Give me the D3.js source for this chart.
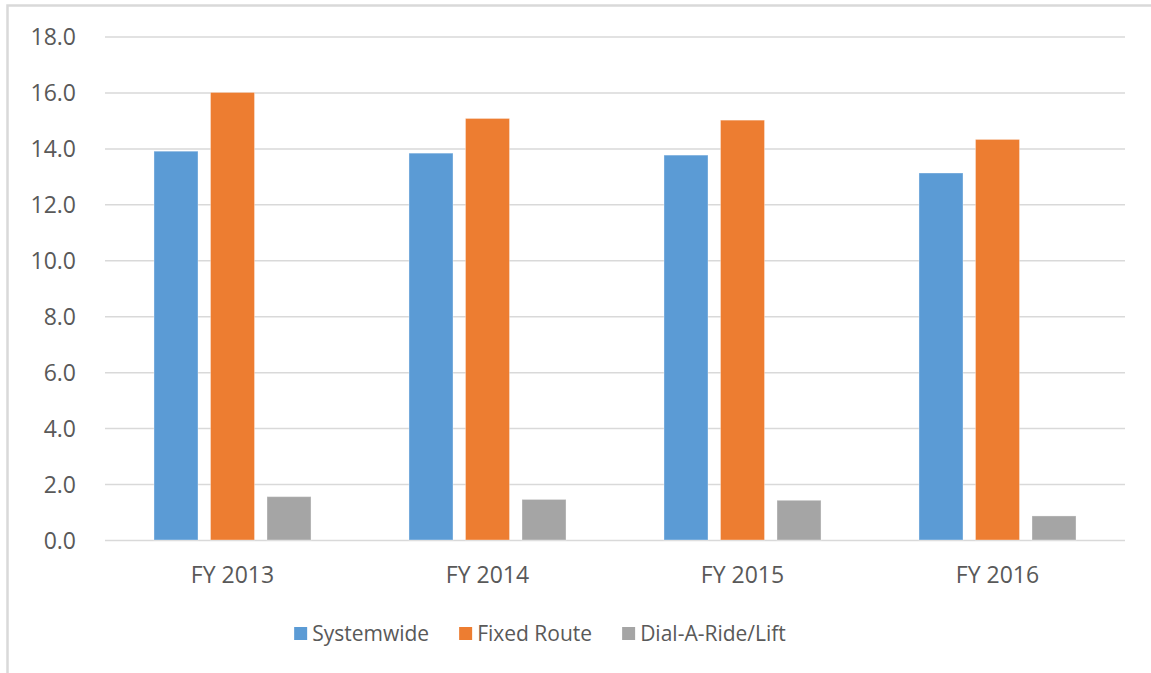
<!DOCTYPE html>
<html>
<head>
<meta charset="utf-8">
<script src="https://cdn.jsdelivr.net/npm/d3@7.9.0/dist/d3.min.js"></script>
<style>
  html, body { margin: 0; padding: 0; background: #fff; }
  svg { display: block; font-family: "Open Sans", sans-serif; }
</style>
</head>
<body>
<svg id="chart" width="1151" height="673"></svg>
<script>
// chart values
const categories = ['FY 2013', 'FY 2014', 'FY 2015', 'FY 2016'];
const seriesNames = ['Systemwide', 'Fixed Route', 'Dial-A-Ride/Lift'];
const systemwide = [13.9, 13.83, 13.76, 13.12];
const fixedRoute = [16.0, 15.07, 15.01, 14.32];
const dialARide = [1.55, 1.45, 1.42, 0.86];
const yTicks = [0, 2, 4, 6, 8, 10, 12, 14, 16, 18];

const colors = ['#5B9BD5', '#ED7D31', '#A5A5A5'];
const seriesValues = [systemwide, fixedRoute, dialARide];

const width = 1151, height = 673;
const svg = d3.select('#chart');

// chart frame (left + top edge visible)
svg.append('path')
  .attr('d', `M7.5,${height + 5} V5.5 H${width + 5}`)
  .attr('fill', 'none')
  .attr('stroke', '#d9d9d9')
  .attr('stroke-width', 2.5);

const plot = { left: 105, right: 1125, top: 36.5, bottom: 540 };

const x0 = d3.scaleBand()
  .domain(categories)
  .range([plot.left, plot.right])
  .padding(0);

const x1 = d3.scaleBand()
  .domain(seriesNames)
  .range([0, x0.bandwidth()])
  .paddingInner(0.221)
  .paddingOuter(0.867);

const y = d3.scaleLinear().domain([0, 18]).range([plot.bottom, plot.top]);

// gridlines
const grid = svg.append('g')
  .attr('transform', `translate(${plot.left},0)`)
  .call(d3.axisLeft(y).tickValues(yTicks).tickFormat('').tickSize(-(plot.right - plot.left)));
grid.select('.domain').remove();
grid.selectAll('line').attr('stroke', '#d9d9d9').attr('stroke-width', 1.5);

// y labels
const yAxis = svg.append('g')
  .attr('transform', 'translate(76,0)')
  .call(d3.axisLeft(y).tickValues(yTicks).tickFormat(d3.format('.1f')).tickSize(0).tickPadding(0));
yAxis.select('.domain').remove();
yAxis.selectAll('text')
  .attr('fill', '#595959')
  .attr('font-size', 23)
  .attr('font-family', '"Open Sans", sans-serif')
  .attr('dy', '0.36em');

// bars
const rows = categories.map((c, i) => ({ cat: c, vals: seriesNames.map((s, j) => ({ s, j, v: seriesValues[j][i] })) }));
const groups = svg.append('g').selectAll('g')
  .data(rows)
  .join('g')
  .attr('transform', d => `translate(${x0(d.cat)},0)`);
groups.selectAll('rect')
  .data(d => d.vals)
  .join('rect')
  .attr('x', d => x1(d.s))
  .attr('width', x1.bandwidth())
  .attr('y', d => y(d.v))
  .attr('height', d => y(0) - y(d.v))
  .attr('fill', d => colors[d.j])
  .attr('stroke', 'rgba(255,255,255,0.35)')
  .attr('stroke-width', 1);

// x labels
const xAxis = svg.append('g')
  .attr('transform', `translate(0,${plot.bottom})`)
  .call(d3.axisBottom(x0).tickSize(0).tickPadding(0));
xAxis.select('.domain').remove();
xAxis.selectAll('text')
  .attr('fill', '#595959')
  .attr('font-size', 23)
  .attr('font-family', '"Open Sans", sans-serif')
  .attr('dy', null)
  .attr('y', 43);

// legend
const legend = svg.append('g');
const items = legend.selectAll('g')
  .data(seriesNames)
  .join('g');
items.append('rect')
  .attr('width', 13).attr('height', 13)
  .attr('y', 627)
  .attr('fill', (d, i) => colors[i]);
items.append('text')
  .attr('x', 18)
  .attr('y', 640.5)
  .attr('font-size', 21)
  .attr('fill', '#595959')
  .text(d => d);
let cursor = 0;
const gap = 30;
items.each(function () {
  const w = this.getBBox().width;
  d3.select(this).attr('transform', `translate(${cursor},0)`);
  cursor += w + gap;
});
const total = cursor - gap;
legend.attr('transform', `translate(${540 - total / 2},0)`);
</script>
</body>
</html>
